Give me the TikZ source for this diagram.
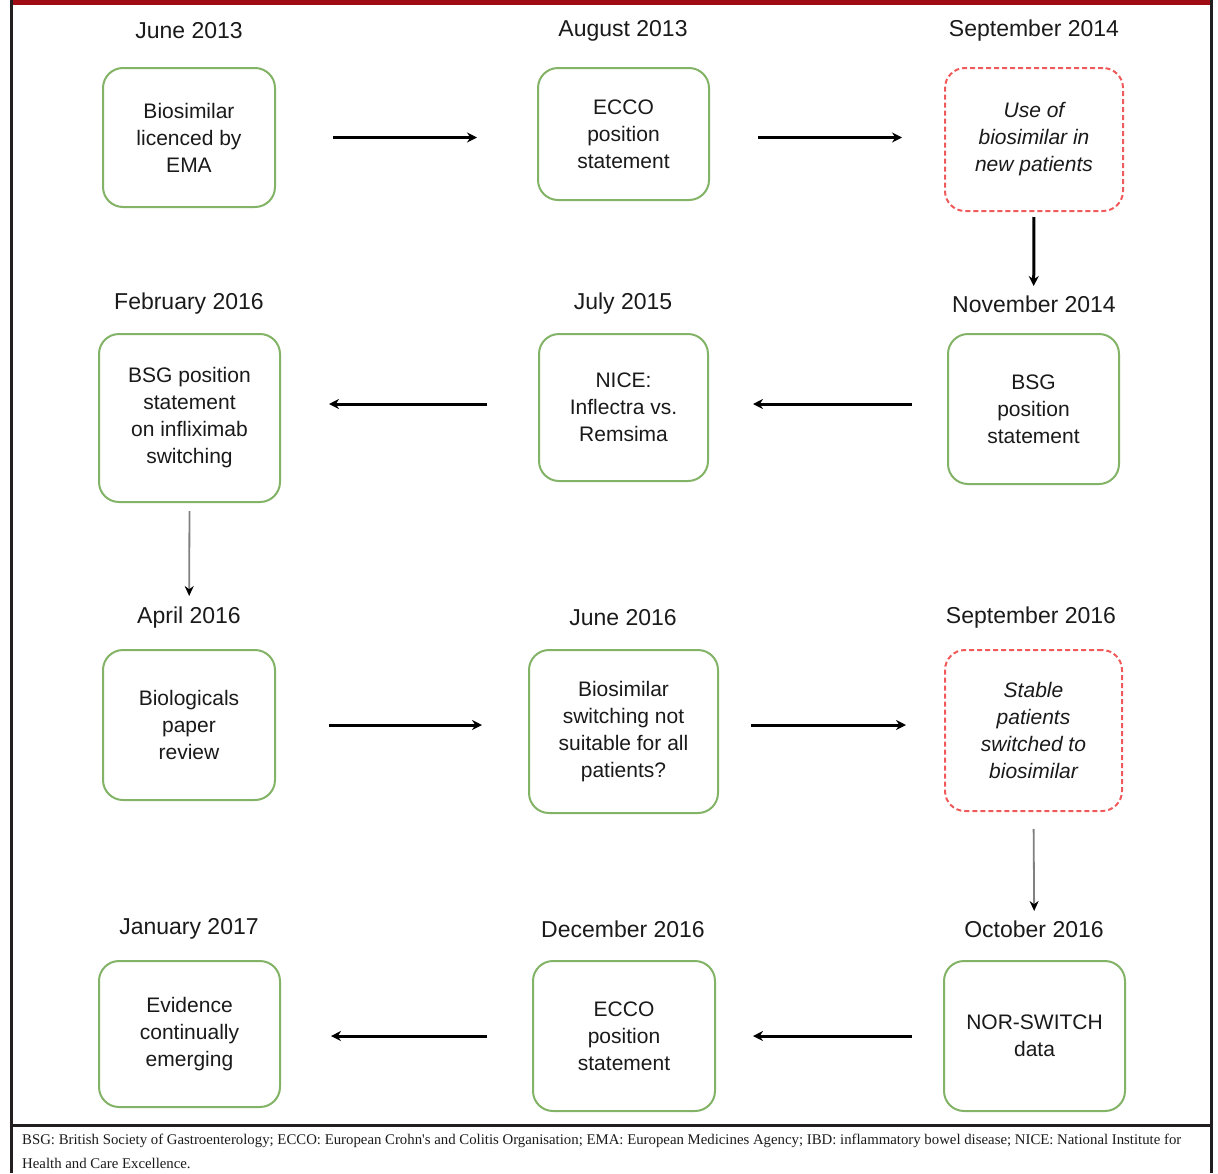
\documentclass[tikz,border=0pt]{standalone}
\usepackage{fontspec}
\setmainfont{Liberation Sans}
\newfontfamily\footfont{Liberation Serif}
\usetikzlibrary{arrows.meta}
\definecolor{boxgreen}{HTML}{82B366}
\definecolor{boxred}{HTML}{F05A5A}
\definecolor{txt}{HTML}{1A1A1A}
\definecolor{barred}{HTML}{A00C14}
\definecolor{framec}{HTML}{231F20}
\begin{document}
\begin{tikzpicture}[x=1pt,y=-1pt,
  gbox/.style={draw=boxgreen, line width=2pt, rounded corners=20pt, fill=white,
    align=center, text=txt, inner sep=4pt, font=\fontsize{21}{27}\selectfont},
  rbox/.style={gbox, draw=boxred, dash pattern=on 5pt off 3pt,
    font=\fontsize{21}{27}\selectfont\itshape},
  datelbl/.style={font=\fontsize{23}{27}\selectfont, text=txt},
  arr/.style={-{Stealth[length=10pt,width=10pt]}, line width=3pt, draw=black},
  garr/.style={-{Stealth[length=10pt,width=9pt,color=black]}, line width=1.8pt, draw=gray},
  framel/.style={draw=framec, line width=3pt}
]
\useasboundingbox (0,0) rectangle (1218,1173);
% frame
\fill[barred] (10,0) rectangle (1213,5);
\draw[framel] (11.5,0) -- (11.5,1173);
\draw[framel] (1211.5,0) -- (1211.5,1173);
\draw[framel] (10,1125) -- (1213,1125);

% row 1
\node[datelbl] (d1) at (189,31) {June 2013};
\node[datelbl] (d2) at (623,31) {August 2013};
\node[datelbl] (d3) at (1034,31) {September 2014};
\node[gbox, minimum width=172pt, minimum height=139pt] (b1) at (189,137.5) {Biosimilar\\licenced by\\EMA};
\node[gbox, minimum width=171pt, minimum height=132pt] (b2) at (623.5,134) {ECCO\\position\\statement};
\node[rbox, minimum width=178pt, minimum height=143pt] (b3) at (1034,139.5) {Use of\\biosimilar in\\new patients};

% row 2
\node[datelbl] (d4) at (1034,304) {November 2014};
\node[datelbl] (d5) at (623,304) {July 2015};
\node[datelbl] (d6) at (189,304) {February 2016};
\node[gbox, minimum width=171pt, minimum height=150pt] (b4) at (1033.5,409) {BSG\\position\\statement};
\node[gbox, minimum width=169pt, minimum height=147pt] (b5) at (623.5,407.5) {NICE:\\Inflectra vs.\\Remsima};
\node[gbox, minimum width=181pt, minimum height=168pt] (b6) at (189.5,418) {BSG position\\statement\\on infliximab\\switching};

% row 3
\node[datelbl] (d7) at (189,618) {April 2016};
\node[datelbl] (d8) at (623,618) {June 2016};
\node[datelbl] (d9) at (1031,618) {September 2016};
\node[gbox, minimum width=172pt, minimum height=150pt] (b7) at (189,725) {Biologicals\\paper\\review};
\node[gbox, minimum width=189pt, minimum height=163pt] (b8) at (623.5,731.5) {Biosimilar\\switching not\\suitable for all\\patients?};
\node[rbox, minimum width=177pt, minimum height=161pt] (b9) at (1033.5,730.5) {Stable\\patients\\switched to\\biosimilar};

% row 4
\node[datelbl] (d10) at (1034,929) {October 2016};
\node[datelbl] (d11) at (623,929) {December 2016};
\node[datelbl] (d12) at (189,929) {January 2017};
\node[gbox, minimum width=181pt, minimum height=150pt] (b10) at (1034.5,1036) {NOR-SWITCH\\data};
\node[gbox, minimum width=182pt, minimum height=150pt] (b11) at (624,1036) {ECCO\\position\\statement};
\node[gbox, minimum width=181pt, minimum height=146pt] (b12) at (189.5,1034) {Evidence\\continually\\emerging};

% connectors
\draw[arr, shorten <=57pt, shorten >=60pt] (b1.east) -- (b1.east -| b2.west);
\draw[arr, shorten <=48pt, shorten >=42pt] (b1.east -| b2.east) -- (b1.east -| b3.west);
\draw[arr, shorten <=5pt, shorten >=47pt] (b3.south) -- (b4.north);
\draw[arr, shorten <=35pt, shorten >=44pt] (b4.west |- 0,404) -- (b5.east |- 0,404);
\draw[arr, shorten <=51pt, shorten >=48pt] (b5.west |- 0,404) -- (b6.east |- 0,404);
\draw[garr, shorten <=8pt, shorten >=53pt] (b6.south) -- (b7.north);
\draw[arr, shorten <=53pt, shorten >=46pt] (b7.east) -- (b7.east -| b8.west);
\draw[arr, shorten <=32pt, shorten >=38pt] (b7.east -| b8.east) -- (b7.east -| b9.west);
\draw[garr, shorten <=17pt, shorten >=49pt] (b9.south) -- (b10.north);
\draw[arr, shorten <=31pt, shorten >=37pt] (b10.west) -- (b10.west -| b11.east);
\draw[arr, shorten <=45pt, shorten >=50pt] (b11.west) -- (b11.west -| b12.east);

% footer
\node[anchor=west, inner sep=0pt, font=\footfont\fontsize{14.8}{17}\selectfont, text=txt] (f1) at (22,1141)
  {BSG: British Society of Gastroenterology; ECCO: European Crohn's and Colitis Organisation; EMA: European Medicines Agency; IBD: inflammatory bowel disease; NICE: National Institute for};
\node[anchor=west, inner sep=0pt, font=\footfont\fontsize{14.8}{17}\selectfont, text=txt] (f2) at (22,1163)
  {Health and Care Excellence.};
\end{tikzpicture}
\end{document}
